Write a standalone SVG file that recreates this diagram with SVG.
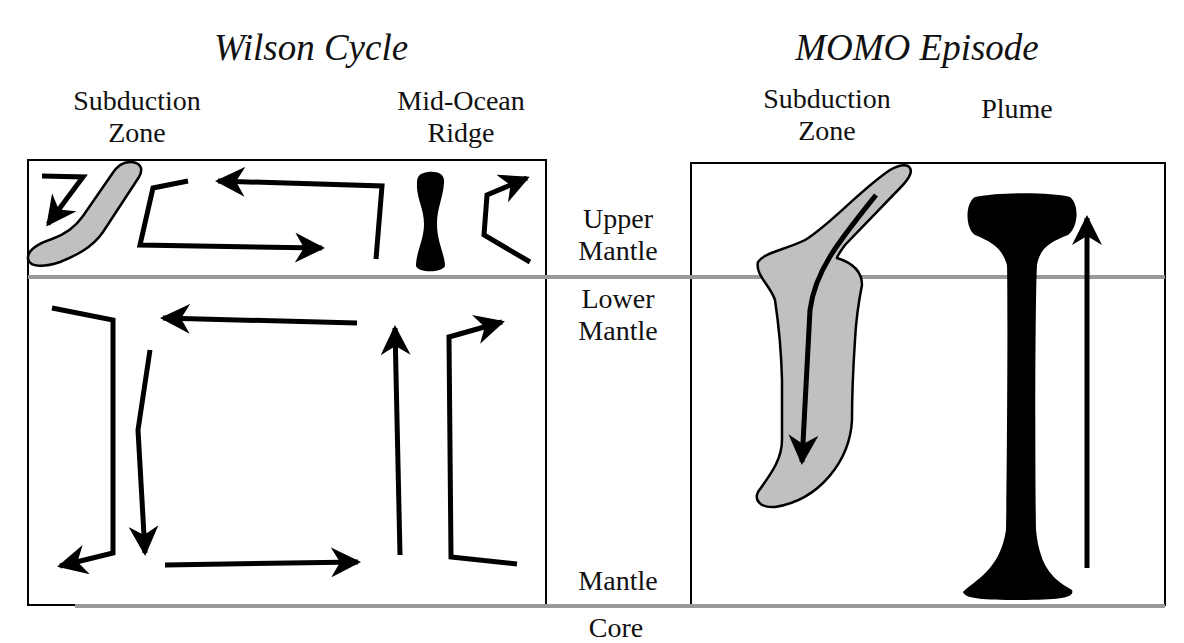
<svg xmlns="http://www.w3.org/2000/svg" width="1184" height="643" viewBox="0 0 1184 643">
<style>
.t{font-family:"Liberation Serif","Times New Roman",serif;font-size:28px;text-anchor:middle;fill:#111}
.h{font-family:"Liberation Serif","Times New Roman",serif;font-size:37px;font-style:italic;text-anchor:middle;fill:#111}
.a{fill:none;stroke:#000;stroke-width:5;stroke-linejoin:miter;marker-end:url(#m)}
.g{stroke:#999;stroke-width:4}
.box{fill:none;stroke:#000;stroke-width:2}
</style>
<defs>
<marker id="m" viewBox="0 0 10 10" refX="9" refY="5" markerWidth="6" markerHeight="6" orient="auto" markerUnits="strokeWidth"><path d="M0,0 L10,5 L0,10 L3,5 Z" fill="#000"/></marker>
</defs>
<rect width="1184" height="643" fill="#fff"/>
<g id="frame">
<rect class="box" x="28" y="160" width="518" height="445"/>
<rect class="box" x="691" y="163" width="474" height="442"/>
<line class="g" x1="28" y1="277" x2="1165" y2="277"/>
<line class="g" x1="75" y1="606" x2="1165" y2="606"/>
</g>
<g id="labels">
<text class="h" x="311" y="60">Wilson Cycle</text>
<text class="h" x="917" y="60">MOMO Episode</text>
<text class="t" x="137" y="110">Subduction</text><text class="t" x="137" y="142">Zone</text>
<text class="t" x="461" y="110">Mid-Ocean</text><text class="t" x="461" y="142">Ridge</text>
<text class="t" x="827" y="108">Subduction</text><text class="t" x="827" y="140">Zone</text>
<text class="t" x="1017" y="118">Plume</text>
<text class="t" x="618" y="228">Upper</text><text class="t" x="618" y="260">Mantle</text>
<text class="t" x="618" y="308">Lower</text><text class="t" x="618" y="340">Mantle</text>
<text class="t" x="618" y="590">Mantle</text>
<text class="t" x="616" y="637">Core</text>
</g>
<g id="slab-wilson"><path d="M130,162 C140,162 144,168 139,177 L103,232 C92,248 75,256 60,262 C45,267 30,268 28,259 C27,249 40,243 52,239 C66,234 76,226 83,216 L112,174 C117,166 122,162 130,162 Z" fill="#c0c0c0" stroke="#000" stroke-width="2.5"/></g>
<g id="ridge"><path d="M428,172 C438,171 445,174 444,183 C443,198 437,208 437,224 C437,242 445,255 445,266 C442,273 418,273 416,266 C416,252 424,240 424,224 C424,208 416,198 417,183 C417,176 420,173 428,172 Z" fill="#000"/></g>
<g id="slab-momo"><path d="M908,166 C914,170 910,178 900,188 L845,245 C840,252 837,256 837,258 C850,262 862,270 862,285 C858,305 856,320 855,340 C853,370 852,400 852,420 C850,460 820,500 775,507 C760,508 754,500 758,492 C770,475 782,460 782,440 L782,380 C781,340 778,320 775,300 C770,285 755,275 758,262 C765,252 785,250 805,240 C830,225 860,190 890,170 C897,166 903,164 908,166 Z" fill="#c0c0c0" stroke="#000" stroke-width="2.5"/></g>
<g id="plume"><path d="M975,197 C1000,192 1050,192 1070,197 C1080,205 1078,228 1068,235 C1050,242 1040,248 1037,265 C1035,300 1035,480 1036,530 C1040,570 1055,580 1072,590 C1075,598 1060,600 1020,600 C985,600 965,599 963,592 C975,580 1000,570 1006,530 C1007,480 1008,300 1007,265 C1002,248 992,242 975,235 C965,228 965,203 975,197 Z" fill="#000"/></g>
<g id="connectors">
<path class="a" d="M42,176 L83,177 L48,224"/>
<path class="a" d="M188,181 L153,188 L140,245 L322,248"/>
<path class="a" d="M376,259 L382,186 L218,181"/>
<path class="a" d="M530,262 L484,235 L487,195 L527,178"/>
<path class="a" d="M52,308 L113,320 L113,553 L60,566"/>
<path class="a" d="M150,350 L138,430 L145,553"/>
<path class="a" d="M357,323 L163,318"/>
<path class="a" d="M165,565 L358,562"/>
<path class="a" d="M400,555 L395,328"/>
<path class="a" d="M517,564 L451,557 L449,337 L502,322"/>
<path class="a" d="M876,195 C840,240 815,270 810,310 L802,462"/>
<path class="a" d="M1087,568 L1087,218"/>
</g>
</svg>
